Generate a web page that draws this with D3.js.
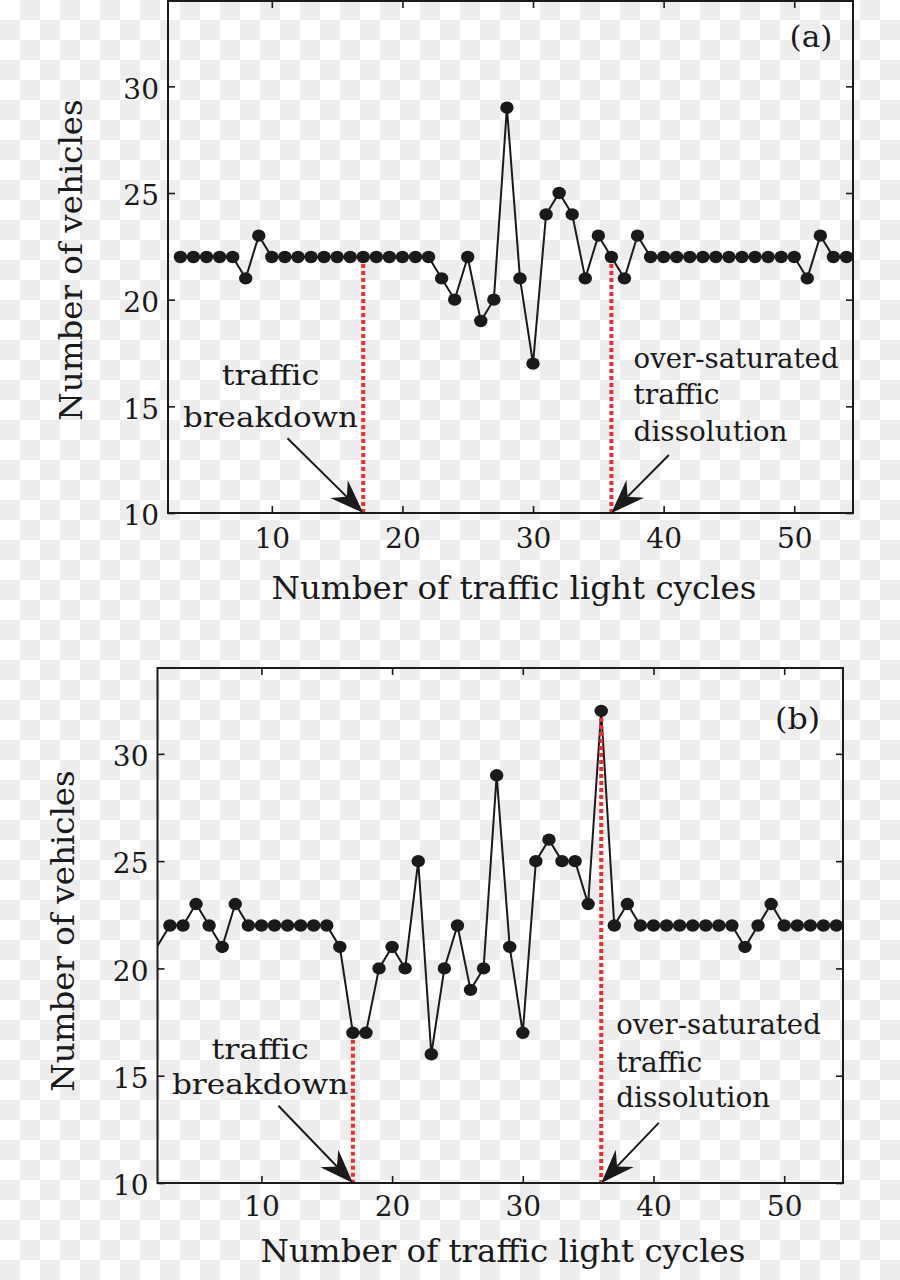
<!DOCTYPE html>
<html><head><meta charset="utf-8">
<script src="https://cdn.jsdelivr.net/npm/d3@7"></script>
<style>body{margin:0;background:#fff} svg{display:block}</style>
</head><body>
<svg id="chart" width="900" height="1280"></svg>
<script>
// ---------- data ----------
const cyclesA = [3,4,5,6,7,8,9,10,11,12,13,14,15,16,17,18,19,20,21,22,23,24,25,26,27,28,29,30,31,32,33,34,35,36,37,38,39,40,41,42,43,44,45,46,47,48,49,50,51,52,53,54];
const vehiclesA = [22,22,22,22,22,21,23,22,22,22,22,22,22,22,22,22,22,22,22,22,21,20,22,19,20,29,21,17,24,25,24,21,23,22,21,23,22,22,22,22,22,22,22,22,22,22,22,22,21,23,22,22];

const cyclesB = [2,3,4,5,6,7,8,9,10,11,12,13,14,15,16,17,18,19,20,21,22,23,24,25,26,27,28,29,30,31,32,33,34,35,36,37,38,39,40,41,42,43,44,45,46,47,48,49,50,51,52,53,54];
const vehiclesB = [21,22,22,23,22,21,23,22,22,22,22,22,22,22,21,17,17,20,21,20,25,16,20,22,19,20,29,21,17,25,26,25,25,23,32,22,23,22,22,22,22,22,22,22,22,21,22,23,22,22,22,22,22];

const xTicks = [10,20,30,40,50];
const yTicks = [10,15,20,25,30];
const xDomain = [2.05, 54.5];
const yDomain = [10, 34];

// event markers (breakdown, dissolution)
const eventCycles = [17, 36];
const eventValuesA = [22, 22];
const eventValuesB = [17, 32];

// annotation arrows [tailX, tailY, tipX, tipY] in data units
const arrowsA = [[11.2, 13.5, 17, 10], [40.4, 12.72, 36, 10]];
const arrowsB = [[11.3, 13.6, 17, 10], [40.4, 12.8, 36, 10]];

const leftText = ["traffic", "breakdown"];
const rightText = ["over-saturated", "traffic", "dissolution"];
const xLabel = "Number of traffic light cycles";
const yLabel = "Number of vehicles";

// ---------- drawing ----------
const FONT = "DejaVu Serif";
const INK = "#1a1a1a";
const svg = d3.select('#chart');
const defs = svg.append('defs');
const pat = defs.append('pattern').attr('id','checker').attr('width',40).attr('height',40).attr('patternUnits','userSpaceOnUse');
pat.append('rect').attr('width',40).attr('height',40).attr('fill','#fff');
pat.append('rect').attr('x',20).attr('y',0).attr('width',20).attr('height',20).attr('fill','#ededed');
pat.append('rect').attr('x',0).attr('y',20).attr('width',20).attr('height',20).attr('fill','#ededed');
svg.append('rect').attr('width',900).attr('height',1280).attr('fill','url(#checker)');

const panels = [
  {id:'a', tag:'(a)', left:168, right:853, top:1, bottom:513,
   cycles:cyclesA, values:vehiclesA, ev:eventValuesA, arrows:arrowsA,
   xLabelX:514, xLabelY:599, yLabelX:82, yLabelY:260, xTickPad:15,
   tagPos:[49.64, 31.85], tagW:43,
   leftPos:{x:9.9, y:[16.0, 14.05], w:[97.6, 175]},
   rightPos:{x:37.7, y:[16.78, 15.11, 13.38], w:[205, 86, 154]}},
  {id:'b', tag:'(b)', left:157.5, right:843, top:668, bottom:1183,
   cycles:cyclesB, values:vehiclesB, ev:eventValuesB, arrows:arrowsB,
   xLabelX:503, xLabelY:1262, yLabelX:74, yLabelY:931, xTickPad:13,
   tagPos:[49.3, 31.17], tagW:45,
   leftPos:{x:9.9, y:[15.8, 14.15], w:[97.3, 176.4]},
   rightPos:{x:37.15, y:[16.96, 15.19, 13.52], w:[204.5, 86, 154]}}
];

panels.forEach(p => {
  const x = d3.scaleLinear().domain(xDomain).range([p.left, p.right]);
  const y = d3.scaleLinear().domain(yDomain).range([p.bottom, p.top]);
  const g = svg.append('g');

  defs.append('clipPath').attr('id','clip'+p.id).append('rect')
    .attr('x',p.left).attr('y',p.top).attr('width',p.right-p.left).attr('height',p.bottom-p.top);

  const pts = p.cycles.map((c,i)=>({c, v:p.values[i]}));
  // series line
  g.append('path').datum(pts)
    .attr('clip-path','url(#clip'+p.id+')')
    .attr('fill','none').attr('stroke',INK).attr('stroke-width',2)
    .attr('d', d3.line().x(d=>x(d.c)).y(d=>y(d.v)));

  // red dotted event lines
  g.selectAll('line.ev').data(eventCycles).join('line')
    .attr('x1',d=>x(d)).attr('x2',d=>x(d))
    .attr('y1',(d,i)=>y(p.ev[i])).attr('y2',y(yDomain[0]))
    .attr('stroke','#f22c2c').attr('stroke-width',4).attr('stroke-dasharray','4,3');

  // markers (only points inside the x-limits)
  g.selectAll('ellipse').data(pts.filter(d=>d.c>=xDomain[0] && d.c<=xDomain[1])).join('ellipse')
    .attr('cx',d=>x(d.c)).attr('cy',d=>y(d.v)).attr('rx',6.7).attr('ry',6.2).attr('fill',INK);

  // axes
  const styleAxis = sel => {
    sel.select('.domain').remove();
    sel.selectAll('.tick line').attr('stroke',INK).attr('stroke-width',1.6);
    sel.selectAll('.tick text').attr('font-family',FONT).attr('font-size',28).attr('fill',INK);
  };
  g.append('g').attr('transform',`translate(0,${p.bottom})`)
    .call(d3.axisBottom(x).tickValues(xTicks).tickSizeInner(-7).tickSizeOuter(0).tickPadding(p.xTickPad).tickFormat(d3.format('d')))
    .call(styleAxis);
  g.append('g').attr('transform',`translate(0,${p.top})`)
    .call(d3.axisTop(x).tickValues(xTicks).tickSizeInner(-7).tickSizeOuter(0).tickFormat(''))
    .call(styleAxis);
  const la = g.append('g').attr('transform',`translate(${p.left},0)`)
    .call(d3.axisLeft(y).tickValues(yTicks).tickSizeInner(-7).tickSizeOuter(0).tickPadding(9).tickFormat(d3.format('d')))
    .call(styleAxis);
  la.selectAll('.tick text').attr('dy','0.42em');
  g.append('g').attr('transform',`translate(${p.right},0)`)
    .call(d3.axisRight(y).tickValues(yTicks).tickSizeInner(-7).tickSizeOuter(0).tickFormat(''))
    .call(styleAxis);

  // frame
  g.append('rect').attr('x',p.left).attr('y',p.top).attr('width',p.right-p.left).attr('height',p.bottom-p.top)
    .attr('fill','none').attr('stroke',INK).attr('stroke-width',2);

  // axis labels
  g.append('text').attr('x',p.xLabelX).attr('y',p.xLabelY).attr('text-anchor','middle')
    .attr('font-family',FONT).attr('font-size',32.5).attr('fill',INK).text(xLabel);
  g.append('text').attr('transform',`translate(${p.yLabelX},${p.yLabelY}) rotate(-90)`).attr('text-anchor','middle')
    .attr('font-family',FONT).attr('font-size',32.5).attr('fill',INK).text(yLabel);

  // panel tag
  g.append('text').attr('x',x(p.tagPos[0])).attr('y',y(p.tagPos[1]))
    .attr('font-family',FONT).attr('font-size',29).attr('fill',INK)
    .attr('textLength',p.tagW).attr('lengthAdjust','spacingAndGlyphs').text(p.tag);

  // annotation texts
  leftText.forEach((t,i)=>{
    g.append('text').attr('x',x(p.leftPos.x)).attr('y',y(p.leftPos.y[i])).attr('text-anchor','middle')
      .attr('font-family',FONT).attr('font-size',28).attr('fill',INK)
      .attr('textLength',p.leftPos.w[i]).attr('lengthAdjust','spacingAndGlyphs').text(t);
  });
  rightText.forEach((t,i)=>{
    g.append('text').attr('x',x(p.rightPos.x)).attr('y',y(p.rightPos.y[i])).attr('text-anchor','start')
      .attr('font-family',FONT).attr('font-size',28).attr('fill',INK)
      .attr('textLength',p.rightPos.w[i]).attr('lengthAdjust','spacingAndGlyphs').text(t);
  });

  // arrows
  p.arrows.forEach(a=>{
    const sx=x(a[0]), sy=y(a[1]), tx=x(a[2]), ty=y(a[3]);
    const dx=tx-sx, dy=ty-sy, len=Math.hypot(dx,dy), ux=dx/len, uy=dy/len, px=-uy, py=ux;
    const L=34, W=12.5, N=23;
    g.append('line').attr('x1',sx).attr('y1',sy).attr('x2',tx-ux*N).attr('y2',ty-uy*N)
      .attr('stroke',INK).attr('stroke-width',2);
    g.append('path').attr('fill',INK)
      .attr('d',`M${tx},${ty}L${tx-ux*L+px*W},${ty-uy*L+py*W}L${tx-ux*N},${ty-uy*N}L${tx-ux*L-px*W},${ty-uy*L-py*W}Z`);
  });
});
</script>
</body></html>
